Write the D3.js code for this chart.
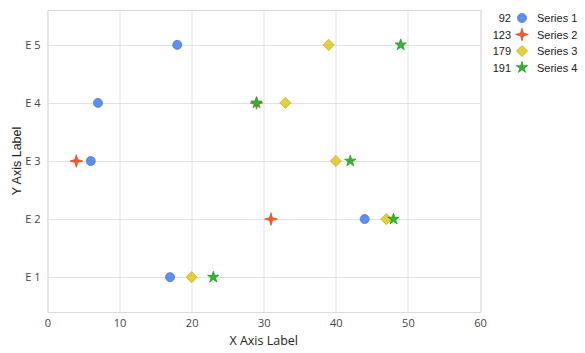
<!DOCTYPE html>
<html>
<head>
<meta charset="utf-8">
<script src="https://cdn.jsdelivr.net/npm/d3@7"></script>
<style>
body { margin: 0; background: #fff; }
svg { display: block; }
</style>
</head>
<body>
<div id="chart"></div>
<script>
// data
var seriesNames = ["Series 1", "Series 2", "Series 3", "Series 4"];
var legendCounts = [92, 123, 179, 191];
var yTickLabels = ["E 1", "E 2", "E 3", "E 4", "E 5"];
var xTicks = [0, 10, 20, 30, 40, 50, 60];

var series1 = [{x: 18, y: 5}, {x: 7, y: 4}, {x: 6, y: 3}, {x: 44, y: 2}, {x: 17, y: 1}];
var series2 = [{x: 29, y: 4}, {x: 4, y: 3}, {x: 31, y: 2}];
var series3 = [{x: 39, y: 5}, {x: 33, y: 4}, {x: 40, y: 3}, {x: 47, y: 2}, {x: 20, y: 1}];
var series4 = [{x: 49, y: 5}, {x: 29, y: 4}, {x: 42, y: 3}, {x: 48, y: 2}, {x: 23, y: 1}];

var allSeries = [series1, series2, series3, series4];
var fills = ["#5b8ff0", "#f55a2c", "#e2cf3a", "#33b533"];
var strokes = ["#4a7be0", "#e84a1e", "#c8b420", "#23a023"];

var margin = {top: 10, right: 105, bottom: 41, left: 47.5};
var width = 585, height = 353;
var plotW = width - margin.left - margin.right;
var plotH = height - margin.top - margin.bottom;

var svg = d3.select("#chart").append("svg")
    .attr("width", width)
    .attr("height", height);

var g = svg.append("g")
    .attr("transform", "translate(" + margin.left + "," + margin.top + ")");

var x = d3.scaleLinear().domain([0, 60]).range([0, plotW]);
var y = d3.scaleLinear().domain([0.4, 5.6]).range([plotH, 0]);

// grid
g.append("g").selectAll("line")
    .data(xTicks)
    .enter().append("line")
    .attr("x1", function(d) { return Math.round(x(d)) + 0.5; })
    .attr("x2", function(d) { return Math.round(x(d)) + 0.5; })
    .attr("y1", 0).attr("y2", plotH)
    .attr("stroke", "#e2e2e2");

g.append("g").selectAll("line")
    .data([1, 2, 3, 4, 5])
    .enter().append("line")
    .attr("x1", 0).attr("x2", plotW)
    .attr("y1", function(d) { return Math.round(y(d)) + 0.5; })
    .attr("y2", function(d) { return Math.round(y(d)) + 0.5; })
    .attr("stroke", "#e2e2e2");

// frame
g.append("rect")
    .attr("x", 0.5).attr("y", 0.5)
    .attr("width", Math.round(plotW)).attr("height", Math.round(plotH))
    .attr("fill", "none")
    .attr("stroke", "#dcdcdc");

// axes
var xAxis = d3.axisBottom(x).tickValues(xTicks).tickSize(0).tickPadding(7);
var yAxis = d3.axisLeft(y).tickValues([1, 2, 3, 4, 5]).tickSize(0).tickPadding(7)
    .tickFormat(function(d) { return yTickLabels[d - 1]; });

var gx = g.append("g")
    .attr("transform", "translate(0," + plotH + ")")
    .call(xAxis);
var gy = g.append("g").call(yAxis);

[gx, gy].forEach(function(a) {
    a.select(".domain").remove();
    a.selectAll("text")
        .attr("fill", "#444")
        .style("font-family", "'Open Sans', sans-serif")
        .style("font-size", "11px");
});

// axis titles
svg.append("text")
    .attr("x", margin.left + plotW / 2)
    .attr("y", 345)
    .attr("text-anchor", "middle")
    .attr("fill", "#222")
    .style("font-family", "'Open Sans', sans-serif")
    .style("font-size", "12.5px")
    .text("X Axis Label");

svg.append("text")
    .attr("transform", "translate(21," + (margin.top + plotH / 2) + ") rotate(-90)")
    .attr("text-anchor", "middle")
    .attr("fill", "#222")
    .style("font-family", "'Liberation Sans', Arial, sans-serif")
    .style("font-size", "12.5px")
    .text("Y Axis Label");

// marker shapes
function fourStar(r, ri) {
    var pts = [];
    for (var i = 0; i < 8; i++) {
        var a = i * Math.PI / 4 - Math.PI / 2;
        var rr = i % 2 === 0 ? r : ri;
        pts.push([rr * Math.cos(a), rr * Math.sin(a)]);
    }
    return "M" + pts.map(function(p) { return p[0].toFixed(2) + "," + p[1].toFixed(2); }).join("L") + "Z";
}

function markerPath(i) {
    if (i === 0) return d3.symbol().type(d3.symbolCircle).size(64)();
    if (i === 1) return fourStar(6.3, 2);
    if (i === 2) return "M0,-5.6L5.6,0L0,5.6L-5.6,0Z";
    return d3.symbol().type(d3.symbolStar).size(40)();
}

allSeries.forEach(function(data, i) {
    g.append("g").selectAll("path")
        .data(data)
        .enter().append("path")
        .attr("transform", function(d) { return "translate(" + x(d.x) + "," + y(d.y) + ")"; })
        .attr("d", markerPath(i))
        .attr("fill", fills[i])
        .attr("stroke", strokes[i])
        .attr("stroke-width", 0.8);
});

// legend
var legend = svg.append("g");
var rowY = [18, 34.5, 51, 67.5];
seriesNames.forEach(function(name, i) {
    var row = legend.append("g").attr("transform", "translate(0," + rowY[i] + ")");
    row.append("text")
        .attr("x", 511).attr("y", 4)
        .attr("text-anchor", "end")
        .attr("fill", "#222")
        .style("font-family", "'Liberation Sans', Arial, sans-serif")
        .style("font-size", "11px")
        .text(legendCounts[i]);
    row.append("path")
        .attr("transform", "translate(522,0)")
        .attr("d", markerPath(i))
        .attr("fill", fills[i])
        .attr("stroke", strokes[i])
        .attr("stroke-width", 0.8);
    row.append("text")
        .attr("x", 537).attr("y", 4)
        .attr("fill", "#222")
        .style("font-family", "'Liberation Sans', Arial, sans-serif")
        .style("font-size", "11px")
        .text(name);
});
</script>
</body>
</html>
